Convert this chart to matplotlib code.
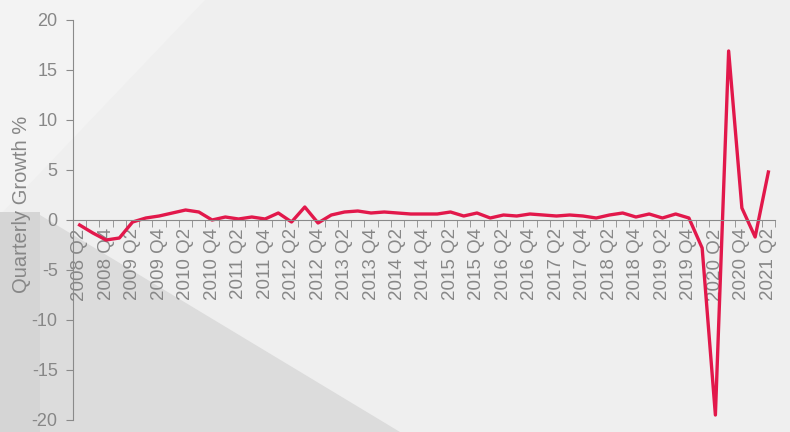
import matplotlib
matplotlib.use("Agg")
import matplotlib.pyplot as plt
import numpy as np

plt.rcParams['font.family'] = ['Liberation Sans', 'DejaVu Sans']
plt.rcParams['axes.unicode_minus'] = False

# Quarterly growth data, 2008 Q2 .. 2021 Q2
years = list(range(2008, 2022))
quarters = []
for y in years:
    for q in range(1, 5):
        quarters.append(f"{y} Q{q}")
quarters = quarters[1:quarters.index("2021 Q2") + 1]

growth = [-0.5, -1.3, -2.0, -1.8, -0.2, 0.2, 0.4, 0.7, 1.0, 0.8,
          0.0, 0.3, 0.1, 0.3, 0.1, 0.7, -0.2, 1.3, -0.3, 0.5,
          0.8, 0.9, 0.7, 0.8, 0.7, 0.6, 0.6, 0.6, 0.8, 0.4,
          0.7, 0.2, 0.5, 0.4, 0.6, 0.5, 0.4, 0.5, 0.4, 0.2,
          0.5, 0.7, 0.3, 0.6, 0.2, 0.6, 0.2, -2.8, -19.5, 16.9,
          1.2, -1.7, 4.8]

line_color = '#e2184b'
text_color = '#878787'
axis_color = '#8a8a8a'

fig = plt.figure(figsize=(7.9, 4.32), dpi=100)
fig.patch.set_facecolor('#efefef')

# Background shading (slide-style decoration)
bg = fig.add_axes([0, 0, 1, 1], zorder=-1)
bg.set_xlim(0, 790)
bg.set_ylim(432, 0)
bg.axis('off')
bg.fill([0, 205, 0], [0, 0, 215], color='#f3f3f3', lw=0)
bg.fill([0, 35, 400, 0], [212, 212, 432, 432], color='#dcdcdc', lw=0)
bg.fill([0, 40, 40, 0], [212, 212, 432, 432], color='#d5d5d5', lw=0)

ax = fig.add_axes([73 / 790, 12 / 432, 702 / 790, 400 / 432])
ax.set_facecolor('none')

x = np.arange(len(quarters))
ax.plot(x, growth, color=line_color, linewidth=2.4, solid_joinstyle='round')

ax.set_xlim(-0.5, len(quarters) - 0.5)
ax.set_ylim(-20, 20)
ax.set_yticks(np.arange(-20, 21, 5))

ax.spines['top'].set_visible(False)
ax.spines['right'].set_visible(False)
ax.spines['bottom'].set_position(('data', 0))
ax.spines['left'].set_color(axis_color)
ax.spines['bottom'].set_color(axis_color)

ax.set_xticks(x[::2])
ax.set_xticklabels(quarters[::2], rotation=90, va='top', ha='center')
ax.set_xticks(np.arange(len(quarters) + 1) - 0.5, minor=True)
ax.tick_params(axis='x', which='major', length=0, pad=6, labelsize=13.5, colors=text_color)
ax.tick_params(axis='x', which='minor', length=5, direction='out', color=axis_color)
ax.tick_params(axis='y', length=5, color=axis_color, labelsize=13, labelcolor=text_color, pad=6)

ax.set_ylabel("Quarterly Growth %", color=text_color, fontsize=14.5)
ax.yaxis.set_label_coords(-42 / 702, 0.54)

fig.savefig("out.png", dpi=100, facecolor=fig.get_facecolor())
